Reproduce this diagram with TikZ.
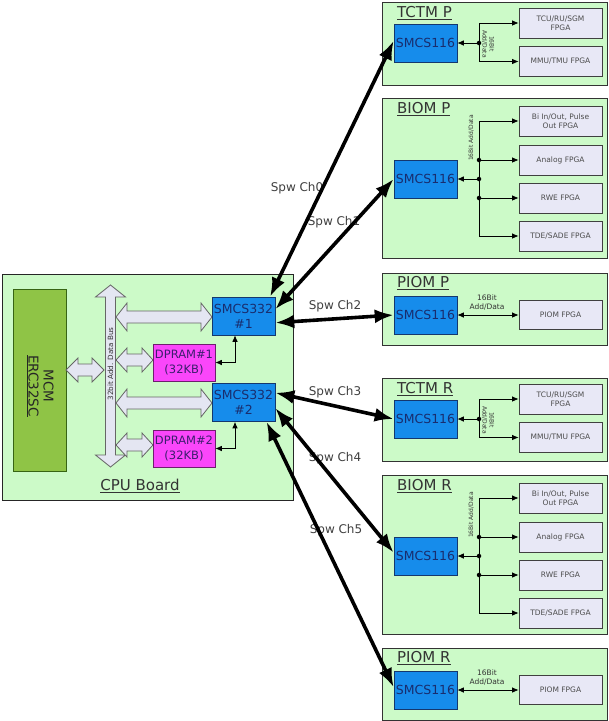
\documentclass[tikz,border=0pt]{standalone}
\usepackage{fontspec}
\setmainfont{DejaVu Sans}
\usetikzlibrary{arrows.meta}
\definecolor{bggreen}{RGB}{204,250,200}
\definecolor{mcmgreen}{RGB}{143,196,70}
\definecolor{mcmedge}{RGB}{55,100,20}
\definecolor{smcsblue}{RGB}{22,140,235}
\definecolor{smcsedge}{RGB}{20,55,110}
\definecolor{smcstext}{RGB}{25,45,110}
\definecolor{dpink}{RGB}{250,70,250}
\definecolor{dpedge}{RGB}{110,30,110}
\definecolor{dptext}{RGB}{60,30,110}
\definecolor{fpgafill}{RGB}{232,232,246}
\definecolor{busfill}{RGB}{228,230,242}
\newcommand\myHDarrow[6]{\draw[busarr] (#1,#3) -- ({#1+#6},{#3-#5}) -- ({#1+#6},{#3-#4}) -- ({#2-#6},{#3-#4}) -- ({#2-#6},{#3-#5}) -- (#2,#3) -- ({#2-#6},{#3+#5}) -- ({#2-#6},{#3+#4}) -- ({#1+#6},{#3+#4}) -- ({#1+#6},{#3+#5}) -- cycle;}
\newcommand\myVDarrow[6]{\draw[busarr] (#1,#2) -- ({#1-#5},{#2+#6}) -- ({#1-#4},{#2+#6}) -- ({#1-#4},{#3-#6}) -- ({#1-#5},{#3-#6}) -- (#1,#3) -- ({#1+#5},{#3-#6}) -- ({#1+#4},{#3-#6}) -- ({#1+#4},{#2+#6}) -- ({#1+#5},{#2+#6}) -- cycle;}
\tikzset{
 board/.style={draw=black!85, line width=0.9pt, fill=bggreen, inner sep=0},
 modbox/.style={draw=black!80, line width=0.8pt, fill=bggreen, inner sep=0, minimum width=225pt},
 smcsbox/.style={draw=smcsedge, line width=0.6pt, fill=smcsblue, text=smcstext, font=\fontsize{12.5}{15}\selectfont, inner sep=0, align=center, minimum width=63pt, minimum height=38pt},
 dprambox/.style={draw=dpedge, line width=0.6pt, fill=dpink, text=dptext, font=\fontsize{11.5}{15}\selectfont, inner sep=0, align=center, minimum width=62pt, minimum height=37pt},
 fpgabox/.style={draw=black!75, line width=0.7pt, fill=fpgafill, font=\fontsize{7.5}{9}\selectfont, text=black!70, align=center, inner sep=0, minimum width=83pt, minimum height=30pt},
 modtitle/.style={anchor=west, inner sep=0, font=\fontsize{15}{17}\selectfont, text=black!80},
 spwarrow/.style={line width=3.6pt, {Latex[length=19pt,width=14pt]}-{Latex[length=19pt,width=14pt]}},
 spwlabel/.style={font=\fontsize{12}{14}\selectfont, text=black!75, inner sep=0},
 sublink/.style={line width=0.8pt, -{Latex[length=6.5pt,width=5.5pt]}},
 subdlink/.style={line width=0.8pt, {Latex[length=6.5pt,width=5.5pt]}-{Latex[length=6.5pt,width=5.5pt]}},
 jdot/.style={circle, fill=black, inner sep=0, minimum size=4.5pt},
 busarr/.style={draw=black!60, fill=busfill, line width=0.8pt},
 buslabel/.style={font=\fontsize{6}{7}\selectfont, text=black!80, inner sep=0, align=center},
}
\begin{document}
\begin{tikzpicture}[x=1pt,y=-1pt]
\fill[white] (0,0) rectangle (609,721);
\useasboundingbox (0,0) rectangle (609,721);

% ---------------- CPU board ----------------
\node[board, minimum width=291pt, minimum height=226pt] (cpu) at (147.5,387) {};
\node[font=\fontsize{15}{17}\selectfont, text=black!80, inner sep=0] (cpulbl) at (140,486) {\underline{CPU Board}};
\node[draw=mcmedge, line width=0.9pt, fill=mcmgreen, minimum width=53pt, minimum height=182pt, inner sep=0] (mcm) at (39.5,380) {};
\node[rotate=-90, font=\fontsize{13.5}{15}\selectfont, text=black!85, align=center, inner sep=0] (mcmtxt) at (40,386) {MCM\\\underline{ERC32SC}};

\myVDarrow{110.5}{285}{467}{5}{15}{12}
\myHDarrow{66}{104}{370}{6}{12}{12}
\myHDarrow{116}{212}{317}{6}{14}{11}
\myHDarrow{116}{153}{360}{6}{12}{11}
\myHDarrow{116}{212}{403}{6}{14}{11}
\myHDarrow{116}{153}{445}{6}{12}{11}
\node[rotate=90, font=\fontsize{7.2}{8}\selectfont, inner sep=0, text=black!80] (buslbl) at (110.5,364) {32bit Add. Data Bus};

\node[smcsbox] (s1) at (243.5,316) {SMCS332\\\#1};
\node[smcsbox] (s2) at (243.5,402.5) {SMCS332\\\#2};
\node[dprambox] (d1) at (184,362.5) {DPRAM\#1\\(32KB)};
\node[dprambox] (d2) at (184,448.5) {DPRAM\#2\\(32KB)};
\draw[subdlink] (d1.east) -| ([xshift=-8.5pt]s1.south);
\draw[subdlink] (d2.east) -| ([xshift=-8.5pt]s2.south);

% ---------------- TCTM P ----------------
\node[modbox, minimum height=83pt] (tctmp) at (494.5,43.5) {};
\node[modtitle] (tctmpT) at (397,13) {\underline{TCTM P}};
\node[smcsbox] (tctmpS) at (425.5,43) {SMCS116};
\node[fpgabox] (tctmpF1) at (560.5,23) {TCU/RU/SGM\\FPGA};
\node[fpgabox] (tctmpF2) at (560.5,61.5) {MMU/TMU FPGA};
\coordinate (tctmpJ) at (479,43);
\draw[sublink] (tctmpJ) -- (tctmpS.east);
\draw[sublink] (tctmpJ) |- (tctmpF1.west);
\draw[sublink] (tctmpJ) |- (tctmpF2.west);
\node[jdot] (tctmpD) at (tctmpJ) {};
\node[buslabel, rotate=-90] (tctmpB) at (488,44) {16Bit\\Add/Data};

% ---------------- BIOM P ----------------
\node[modbox, minimum height=160pt] (biomp) at (494.5,178) {};
\node[modtitle] (biompT) at (397,109) {\underline{BIOM P}};
\node[smcsbox] (biompS) at (425.5,179) {SMCS116};
\node[fpgabox] (biompF1) at (560.5,121) {Bi In/Out, Pulse\\Out FPGA};
\node[fpgabox] (biompF2) at (560.5,160) {Analog FPGA};
\node[fpgabox] (biompF3) at (560.5,198) {RWE FPGA};
\node[fpgabox] (biompF4) at (560.5,236) {TDE/SADE FPGA};
\coordinate (biompJ) at (479,179);
\coordinate (biompJa) at (479,160);
\coordinate (biompJb) at (479,198);
\draw[sublink] (biompJ) -- (biompS.east);
\draw[sublink] (biompJ) |- (biompF1.west);
\draw[sublink] (biompJ) |- (biompF4.west);
\draw[sublink] (biompJa) -- (biompF2.west);
\draw[sublink] (biompJb) -- (biompF3.west);
\node[jdot] (biompD) at (biompJ) {};
\node[jdot] (biompDa) at (biompJa) {};
\node[jdot] (biompDb) at (biompJb) {};
\node[buslabel, rotate=90] (biompB) at (471,138) {16Bit Add/Data};

% ---------------- PIOM P ----------------
\node[modbox, minimum height=72pt] (piomp) at (494.5,309) {};
\node[modtitle] (piompT) at (397,283) {\underline{PIOM P}};
\node[smcsbox] (piompS) at (425.5,315) {SMCS116};
\node[fpgabox, minimum height=29pt] (piompF) at (560.5,315) {PIOM FPGA};
\draw[subdlink] (piompS.east) -- (piompF.west);
\node[buslabel, font=\fontsize{7.5}{9}\selectfont] (piompB) at (487,302.5) {16Bit\\Add/Data};

% ---------------- TCTM R ----------------
\node[modbox, minimum height=83pt] (tctmr) at (494.5,419.5) {};
\node[modtitle] (tctmrT) at (397,389) {\underline{TCTM R}};
\node[smcsbox] (tctmrS) at (425.5,419) {SMCS116};
\node[fpgabox] (tctmrF1) at (560.5,399) {TCU/RU/SGM\\FPGA};
\node[fpgabox] (tctmrF2) at (560.5,437.5) {MMU/TMU FPGA};
\coordinate (tctmrJ) at (479,419);
\draw[sublink] (tctmrJ) -- (tctmrS.east);
\draw[sublink] (tctmrJ) |- (tctmrF1.west);
\draw[sublink] (tctmrJ) |- (tctmrF2.west);
\node[jdot] (tctmrD) at (tctmrJ) {};
\node[buslabel, rotate=-90] (tctmrB) at (488,420) {16Bit\\Add/Data};

% ---------------- BIOM R ----------------
\node[modbox, minimum height=159pt] (biomr) at (494.5,554.5) {};
\node[modtitle] (biomrT) at (397,486) {\underline{BIOM R}};
\node[smcsbox] (biomrS) at (425.5,556) {SMCS116};
\node[fpgabox] (biomrF1) at (560.5,498) {Bi In/Out, Pulse\\Out FPGA};
\node[fpgabox] (biomrF2) at (560.5,537) {Analog FPGA};
\node[fpgabox] (biomrF3) at (560.5,575) {RWE FPGA};
\node[fpgabox] (biomrF4) at (560.5,613) {TDE/SADE FPGA};
\coordinate (biomrJ) at (479,556);
\coordinate (biomrJa) at (479,537);
\coordinate (biomrJb) at (479,575);
\draw[sublink] (biomrJ) -- (biomrS.east);
\draw[sublink] (biomrJ) |- (biomrF1.west);
\draw[sublink] (biomrJ) |- (biomrF4.west);
\draw[sublink] (biomrJa) -- (biomrF2.west);
\draw[sublink] (biomrJb) -- (biomrF3.west);
\node[jdot] (biomrD) at (biomrJ) {};
\node[jdot] (biomrDa) at (biomrJa) {};
\node[jdot] (biomrDb) at (biomrJb) {};
\node[buslabel, rotate=90] (biomrB) at (471,515) {16Bit Add/Data};

% ---------------- PIOM R ----------------
\node[modbox, minimum height=72pt] (piomr) at (494.5,684) {};
\node[modtitle] (piomrT) at (397,658) {\underline{PIOM R}};
\node[smcsbox] (piomrS) at (425.5,690) {SMCS116};
\node[fpgabox, minimum height=29pt] (piomrF) at (560.5,690) {PIOM FPGA};
\draw[subdlink] (piomrS.east) -- (piomrF.west);
\node[buslabel, font=\fontsize{7.5}{9}\selectfont] (piomrB) at (487,677.5) {16Bit\\Add/Data};

% ---------------- SpaceWire links ----------------
\node[spwlabel] (ch0) at (297,188) {Spw Ch0};
\node[spwlabel] (ch1) at (334,222) {Spw Ch1};
\node[spwlabel] (ch2) at (335,306) {Spw Ch2};
\node[spwlabel] (ch3) at (335,392) {Spw Ch3};
\node[spwlabel] (ch4) at (335,458) {Spw Ch4};
\node[spwlabel] (ch5) at (336,530) {Spw Ch5};

\draw[spwarrow] (s1.36) -- (tctmpS.176);
\draw[spwarrow] (s1.12) -- (biompS.west);
\draw[spwarrow] (s1.-12) -- (piompS.west);
\draw[spwarrow] (s2.17) -- (tctmrS.west);
\draw[spwarrow] (s2.-10) -- (biomrS.174);
\draw[spwarrow] (s2.-40) -- (piomrS.175);
\end{tikzpicture}
\end{document}
